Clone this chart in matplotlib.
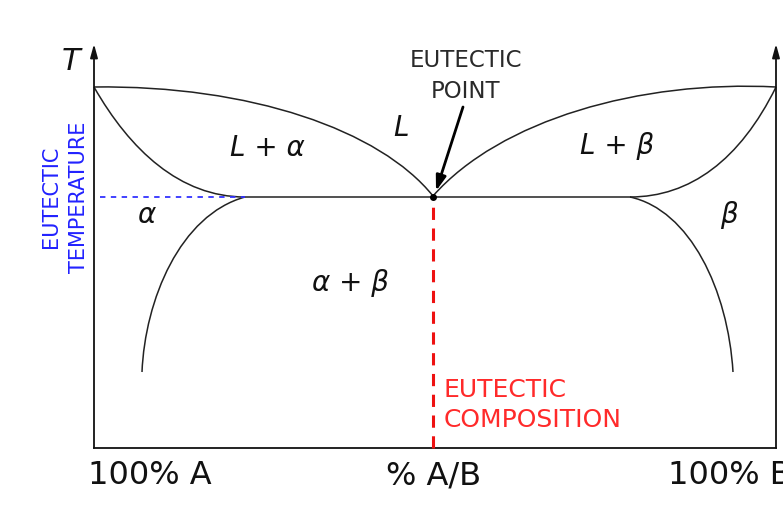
import matplotlib
matplotlib.use('Agg')
import matplotlib.pyplot as plt
from matplotlib.path import Path
from matplotlib.patches import PathPatch

# phase boundaries as cubic bezier control points (pixel coords of the picture)
liquidus_left = [(94, 87), (250, 85), (380, 130), (433, 196)]
liquidus_right = [(433, 196), (500, 120), (640, 80), (776, 87)]
solidus_left = [(94, 87), (130, 150), (180, 197), (245, 197)]
solidus_right = [(776, 87), (740, 160), (690, 197), (630, 197)]
solvus_left = [(245, 197), (180, 215), (145, 300), (142, 372)]
solvus_right = [(630, 197), (690, 210), (728, 290), (733, 372)]
eutectic_line = [(245, 197), (630, 197)]

eutectic_x, eutectic_y = 433, 197
x_left, x_right, y_bottom, y_top = 94, 776, 448, 44

# region labels
regions = ['L + α', 'L', 'L + β', 'α', 'β', 'α + β']
region_x = [267, 401, 617, 146, 729, 350]
region_y = [148, 128, 146, 215, 215, 283]

fig = plt.figure(figsize=(7.83, 5.08), dpi=100)
ax = fig.add_axes([0, 0, 1, 1])
ax.set_xlim(0, 783)
ax.set_ylim(508, 0)
ax.axis('off')

for pts in [liquidus_left, liquidus_right, solidus_left, solidus_right, solvus_left, solvus_right]:
    p = Path(pts, [Path.MOVETO, Path.CURVE4, Path.CURVE4, Path.CURVE4])
    ax.add_patch(PathPatch(p, fill=False, lw=1.1, ec='#222222'))

ax.plot([p[0] for p in eutectic_line], [p[1] for p in eutectic_line], color='#222222', lw=1.1)

# axes with arrows
ax.plot([x_left, x_right], [y_bottom, y_bottom], color='#222222', lw=1.4)
for xa in [x_left, x_right]:
    ax.annotate('', xy=(xa, y_top), xytext=(xa, y_bottom),
                arrowprops=dict(arrowstyle='-|>,head_length=0.8,head_width=0.22',
                                color='#111111', lw=1.3, shrinkA=0, shrinkB=0))

# eutectic markers
ax.plot([100, 245], [eutectic_y, eutectic_y], color='#3333ff', lw=1.3, dashes=(3, 3))
ax.plot([eutectic_x, eutectic_x], [y_bottom, eutectic_y + 2], color='#ee1111', lw=2.2,
        dashes=(4, 2.8))
ax.plot(eutectic_x, eutectic_y, 'o', color='black', ms=4)

ax.annotate('', xy=(436, 191), xytext=(463, 107),
            arrowprops=dict(arrowstyle='-|>,head_length=0.9,head_width=0.3',
                            color='black', lw=2, shrinkA=0, shrinkB=0))

for lab, xx, yy in zip(regions, region_x, region_y):
    ax.text(xx, yy, lab, fontsize=20, style='italic', ha='center', va='center',
            color='#111111')

ax.text(71, 61, 'T', fontsize=22, style='italic', ha='center', va='center', color='#111111')

ax.text(466, 76, 'EUTECTIC\nPOINT', fontsize=16.5, ha='center', va='center',
        color='#2a2a2a', linespacing=1.45)
ax.text(65, 197, 'EUTECTIC\nTEMPERATURE', fontsize=15, ha='center', va='center',
        color='#2222ff', rotation=90, linespacing=1.45)
ax.text(444, 405, 'EUTECTIC\nCOMPOSITION', fontsize=18, ha='left', va='center',
        color='#ff2a2a', linespacing=1.3)

ax.text(88, 476, '100% A', fontsize=23, ha='left', va='center', color='#111111')
ax.text(434, 476, '% A/B', fontsize=23, ha='center', va='center', color='#111111')
ax.text(668, 476, '100% B', fontsize=23, ha='left', va='center', color='#111111')

fig.savefig('out.png', dpi=100)
